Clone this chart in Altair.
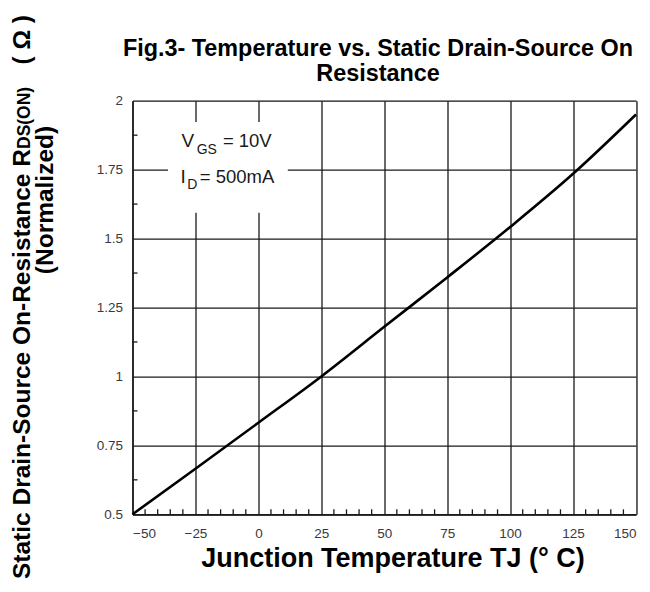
import altair as alt
import pandas as pd

# Curve data
temps = [-50, -25, 0, 25, 50, 75, 100, 125, 150]
rds = [0.50, 0.665, 0.832, 1.00, 1.18, 1.359, 1.542, 1.735, 1.95]

x_major = [-50, -25, 0, 25, 50, 75, 100, 125, 150]
y_major = [0.5, 0.75, 1.0, 1.25, 1.5, 1.75, 2.0]
x_minor = [v for v in range(-45, 150, 5) if v % 25 != 0]
y_minor = [0.625, 0.875, 1.125, 1.375, 1.625, 1.875]

title_lines = ["Fig.3- Temperature vs. Static Drain-Source On", "Resistance"]

W, H = 503.5, 413.6
TOP = 92.7
LEFT = 124.5
FONT = "Liberation Sans"
LBL = "Liberation Sans"

curve = pd.DataFrame({"t": temps, "r": rds})

xs = alt.Scale(domain=[-50, 150], nice=False, zero=False)
ys = alt.Scale(domain=[0.5, 2.0], nice=False, zero=False)

xaxis = alt.Axis(
    values=x_major, grid=True, gridColor="#1a1a1a", gridWidth=1.3,
    ticks=False, domainColor="#1a1a1a", domainWidth=1.5,
    labelFont=LBL, labelFontSize=13.5, labelColor="#3a3a3a", labelPadding=12,
    title="Junction Temperature TJ (° C)", titleFont=FONT, titleFontSize=27,
    titleFontWeight="bold", titleColor="black", titleX=260, titleY=44,
    titleBaseline="middle", titleAlign="center",
)
yaxis = alt.Axis(
    values=y_major, grid=True, gridColor="#1a1a1a", gridWidth=1.3,
    ticks=False, domainColor="#1a1a1a", domainWidth=1.5,
    labelFont=LBL, labelFontSize=13.5, labelColor="#3a3a3a", labelPadding=10,
    labelExpr="format(datum.value, '.3~g')", title=None,
)

base_line = alt.Chart(curve).mark_line(color="black", strokeWidth=2.6, interpolate="monotone").encode(
    x=alt.X("t:Q", scale=xs, axis=xaxis),
    y=alt.Y("r:Q", scale=ys, axis=yaxis),
)

# white box behind the annotation (interrupts gridlines)
box = pd.DataFrame({"x1": [-35.9], "x2": [11.7], "y1": [1.594], "y2": [1.923]})
box_mark = alt.Chart(box).mark_rect(color="white").encode(
    x=alt.X("x1:Q", scale=xs), x2="x2:Q",
    y=alt.Y("y1:Q", scale=ys), y2="y2:Q",
)

xm = pd.DataFrame({"x": x_minor})
xminor_mark = alt.Chart(xm).mark_rule(color="#1a1a1a", strokeWidth=1.3).encode(
    x=alt.X("x:Q", scale=xs), y=alt.value(H), y2=alt.value(H - 5),
)
ym = pd.DataFrame({"y": y_minor})
yminor_mark = alt.Chart(ym).mark_rule(color="#1a1a1a", strokeWidth=1.3).encode(
    y=alt.Y("y:Q", scale=ys), x=alt.value(0), x2=alt.value(5),
)

# annotation text
ann_main = pd.DataFrame({"x": [-30.5, -30.9], "y": [1.855, 1.723], "txt": ["V", "I"]})
ann_sub = pd.DataFrame({"x": [-24.5, -28.3], "y": [1.821, 1.695], "txt": ["GS", "D"]})
ann_rest = pd.DataFrame({"x": [-14.1, -23.3], "y": [1.855, 1.723], "txt": ["= 10V", "= 500mA"]})

t1 = alt.Chart(ann_main).mark_text(font=LBL, fontSize=19, align="left", baseline="middle", color="#1a1a1a").encode(
    x=alt.X("x:Q", scale=xs), y=alt.Y("y:Q", scale=ys), text="txt:N")
t2 = alt.Chart(ann_sub).mark_text(font=LBL, fontSize=14, align="left", baseline="middle", color="#1a1a1a").encode(
    x=alt.X("x:Q", scale=xs), y=alt.Y("y:Q", scale=ys), text="txt:N")
t3 = alt.Chart(ann_rest).mark_text(font=LBL, fontSize=18.5, align="left", baseline="middle", color="#1a1a1a").encode(
    x=alt.X("x:Q", scale=xs), y=alt.Y("y:Q", scale=ys), text="txt:N")

# y-axis title, built from pieces (small-caps subscript part)
YT_BASE_X = 30 - 132.5
yt1 = alt.Chart(pd.DataFrame({"txt": ["Static Drain-Source On-Resistance R"]})).mark_text(
    font=FONT, fontSize=24.5, fontWeight="bold", angle=270, align="left", baseline="alphabetic", color="black"
).encode(x=alt.value(YT_BASE_X), y=alt.value(579 - 100.7), text="txt:N")
yt2 = alt.Chart(pd.DataFrame({"txt": ["DS(ON)"]})).mark_text(
    font=FONT, fontSize=17.5, fontWeight="bold", angle=270, align="left", baseline="alphabetic", color="black"
).encode(x=alt.value(YT_BASE_X), y=alt.value(149 - 100.7), text="txt:N")
yt3 = alt.Chart(pd.DataFrame({"txt": ["( Ω )"]})).mark_text(
    font=FONT, fontSize=24.5, fontWeight="bold", angle=270, align="right", baseline="alphabetic", color="black"
).encode(x=alt.value(YT_BASE_X), y=alt.value(15 - 100.7), text="txt:N")
norm = alt.Chart(pd.DataFrame({"txt": ["(Normalized)"]})).mark_text(
    font=FONT, fontSize=24.5, fontWeight="bold", angle=270, align="center", baseline="middle", color="black"
).encode(x=alt.value(46 - 132.5), y=alt.value(200 - 100.7), text="txt:N")

# chart title as text marks
title_df = pd.DataFrame({"txt": title_lines, "ypx": [49.5 - 100.7, 74 - 100.7]})
title_mark = alt.Chart(title_df).mark_text(
    font=FONT, fontSize=23.4, fontWeight="bold", align="center", baseline="middle", color="black"
).encode(x=alt.value(378 - 132.5), y=alt.Y("ypx:Q", scale=None), text="txt:N")

chart = alt.layer(
    box_mark, xminor_mark, yminor_mark, base_line, t1, t2, t3, yt1, yt2, yt3, norm, title_mark
).properties(
    width=W, height=H,
    autosize=alt.AutoSizeParams(type="none"),
    padding={"left": LEFT, "top": TOP, "right": 6, "bottom": 69},
).configure_view(stroke="#1a1a1a", strokeWidth=1.5).configure(background="white")

chart.save("out.html", embed_options={"renderer": "svg", "actions": False})
